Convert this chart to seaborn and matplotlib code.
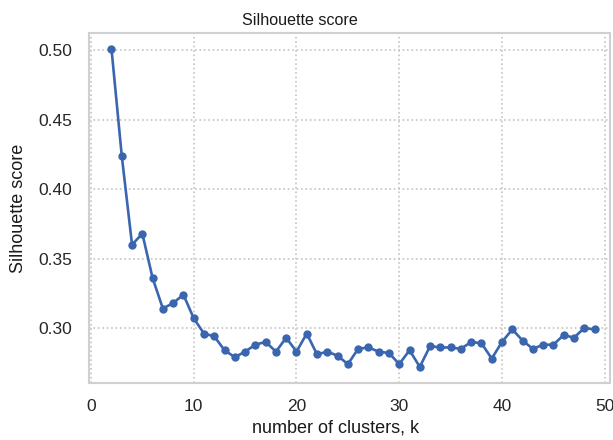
import matplotlib
matplotlib.use("Agg")
import matplotlib.pyplot as plt
import seaborn as sns
import pandas as pd

# number of clusters tried and the resulting mean silhouette score
k_values = list(range(2, 50))
silhouette = [
    0.501, 0.424, 0.360, 0.368, 0.336, 0.314, 0.318, 0.324, 0.307, 0.296,
    0.294, 0.284, 0.279, 0.283, 0.288, 0.290, 0.283, 0.293, 0.283, 0.296,
    0.281, 0.283, 0.280, 0.274, 0.285, 0.286, 0.283, 0.282, 0.274, 0.284,
    0.272, 0.287, 0.286, 0.286, 0.285, 0.290, 0.289, 0.278, 0.290, 0.299,
    0.291, 0.285, 0.288, 0.288, 0.295, 0.293, 0.300, 0.299,
]
x_ticks = [0, 10, 20, 30, 40, 50]
y_ticks = [0.30, 0.35, 0.40, 0.45, 0.50]

df = pd.DataFrame({"k": k_values, "score": silhouette})

sns.set_theme(style="whitegrid")
plt.rcParams["font.family"] = ["Liberation Sans", "DejaVu Sans"]

fig = plt.figure(figsize=(6.13, 4.40), dpi=100)
ax = fig.add_axes([0.145, 0.130, 0.850, 0.795])

sns.lineplot(data=df, x="k", y="score", ax=ax, color="#3a66b0",
             marker="o", markersize=6, markeredgewidth=0, linewidth=1.9)

ax.set_xlim(-0.2, 50.5)
ax.set_xticks(x_ticks)
ax.set_yticks(y_ticks)
ax.set_yticklabels([f"{v:.2f}" for v in y_ticks])
ax.grid(True, linestyle=":", color="#c4c4c4", linewidth=1.2)
for s in ax.spines.values():
    s.set_visible(True)
    s.set_color("#d0d0d0")
    s.set_linewidth(1.5)

ax.tick_params(labelsize=12.5, colors="#262626", pad=6)
ax.set_title("Silhouette score", fontsize=11.6, color="#1a1a1a", pad=6, x=0.405)
ax.set_xlabel("number of clusters, k", fontsize=13, color="#1a1a1a")
ax.xaxis.set_label_coords(0.474, -0.105)
ax.set_ylabel("Silhouette score", fontsize=13, color="#1a1a1a", labelpad=8)

fig.savefig("out.png", dpi=100)
